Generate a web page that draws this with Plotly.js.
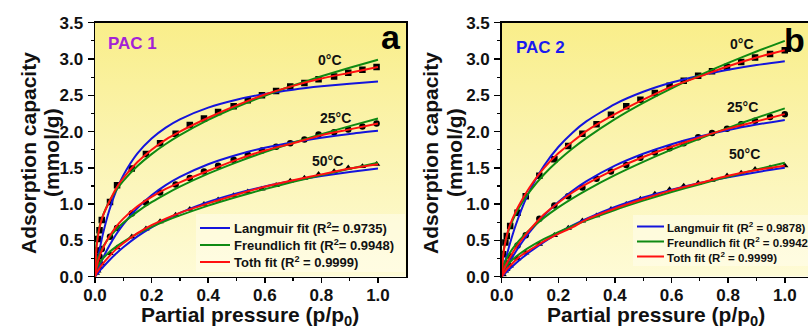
<!DOCTYPE html>
<html>
<head>
<meta charset="utf-8">
<script src="https://cdn.plot.ly/plotly-3.0.1.min.js"></script>
<style>html,body{margin:0;padding:0;background:#fff;}#chart{width:808px;height:330px;}</style>
</head>
<body>
<div id="chart"></div>
<script>
// ---------- DATA ----------
const temps = ['0°C', '25°C', '50°C'];

// measured points, PAC 1 (panel a)
const pA = [0.005, 0.01, 0.016, 0.024, 0.053, 0.078, 0.13, 0.18, 0.23, 0.285, 0.335, 0.385, 0.435, 0.49, 0.54, 0.59, 0.64, 0.69, 0.74, 0.79, 0.845, 0.895, 0.945, 0.995];
const qA0  = [0.36, 0.52, 0.64, 0.78, 1.03, 1.26, 1.49, 1.69, 1.84, 1.97, 2.09, 2.18, 2.27, 2.35, 2.43, 2.50, 2.56, 2.62, 2.67, 2.72, 2.76, 2.81, 2.85, 2.89];
const qA25 = [0.12, 0.20, 0.28, 0.38, 0.55, 0.67, 0.87, 1.02, 1.16, 1.27, 1.36, 1.45, 1.53, 1.61, 1.68, 1.74, 1.79, 1.84, 1.89, 1.96, 1.99, 2.03, 2.07, 2.11];
const qA50 = [0.05, 0.08, 0.13, 0.18, 0.32, 0.40, 0.55, 0.66, 0.76, 0.85, 0.93, 1.00, 1.06, 1.12, 1.17, 1.21, 1.26, 1.32, 1.36, 1.41, 1.45, 1.50, 1.52, 1.55];

// measured points, PAC 2 (panel b)
const pB = [0.005, 0.013, 0.018, 0.03, 0.056, 0.085, 0.133, 0.186, 0.235, 0.285, 0.335, 0.386, 0.44, 0.49, 0.541, 0.593, 0.643, 0.694, 0.743, 0.796, 0.846, 0.895, 0.948, 1.0];
const qB0  = [0.31, 0.47, 0.56, 0.70, 0.88, 1.11, 1.39, 1.62, 1.80, 1.97, 2.10, 2.23, 2.35, 2.44, 2.53, 2.63, 2.70, 2.77, 2.83, 2.89, 2.96, 3.02, 3.07, 3.12];
const qB25 = [0.07, 0.15, 0.19, 0.28, 0.43, 0.57, 0.80, 0.98, 1.11, 1.23, 1.35, 1.45, 1.54, 1.64, 1.71, 1.77, 1.84, 1.92, 1.98, 2.04, 2.10, 2.15, 2.20, 2.24];
const qB50 = [0.03, 0.08, 0.10, 0.15, 0.25, 0.33, 0.45, 0.57, 0.67, 0.77, 0.84, 0.93, 1.00, 1.07, 1.14, 1.20, 1.25, 1.29, 1.33, 1.39, 1.43, 1.48, 1.50, 1.53];

// fitted curves, common pressure grid
const fitP = [0, 0.005, 0.01, 0.02, 0.03, 0.05, 0.075, 0.1, 0.15, 0.2, 0.25, 0.3, 0.4, 0.5, 0.6, 0.7, 0.8, 0.9, 1.0];

// PAC 1
const aLang0  = [0, 0.125, 0.240, 0.445, 0.621, 0.909, 1.185, 1.396, 1.699, 1.905, 2.055, 2.169, 2.330, 2.439, 2.518, 2.577, 2.623, 2.660, 2.691];
const aFreu0  = [0, 0.456, 0.583, 0.746, 0.861, 1.032, 1.192, 1.320, 1.525, 1.689, 1.828, 1.950, 2.160, 2.338, 2.494, 2.634, 2.762, 2.880, 2.990];
const aToth0  = [0, 0.38, 0.55, 0.74, 0.86, 1.03, 1.22, 1.36, 1.58, 1.75, 1.89, 2.00, 2.19, 2.36, 2.51, 2.63, 2.73, 2.81, 2.89];
const aLang25 = [0, 0.050, 0.098, 0.188, 0.272, 0.422, 0.584, 0.722, 0.947, 1.122, 1.261, 1.375, 1.550, 1.678, 1.776, 1.853, 1.915, 1.967, 2.010];
const aFreu25 = [0, 0.183, 0.253, 0.349, 0.422, 0.537, 0.649, 0.742, 0.897, 1.027, 1.139, 1.241, 1.420, 1.576, 1.717, 1.845, 1.964, 2.075, 2.180];
const aToth25 = [0, 0.12, 0.20, 0.32, 0.41, 0.55, 0.69, 0.80, 0.97, 1.10, 1.21, 1.30, 1.46, 1.61, 1.74, 1.84, 1.95, 2.03, 2.11];
const aLang50 = [0, 0.025, 0.049, 0.096, 0.140, 0.224, 0.319, 0.405, 0.555, 0.680, 0.787, 0.879, 1.030, 1.148, 1.243, 1.321, 1.387, 1.442, 1.490];
const aFreu50 = [0, 0.103, 0.147, 0.210, 0.259, 0.337, 0.415, 0.481, 0.592, 0.687, 0.770, 0.845, 0.980, 1.099, 1.207, 1.307, 1.400, 1.487, 1.570];
const aToth50 = [0, 0.05, 0.08, 0.14, 0.19, 0.28, 0.38, 0.46, 0.60, 0.71, 0.80, 0.88, 1.01, 1.13, 1.24, 1.33, 1.41, 1.49, 1.55];

// PAC 2
const bLang0  = [0, 0.088, 0.171, 0.326, 0.468, 0.716, 0.976, 1.193, 1.532, 1.787, 1.985, 2.143, 2.379, 2.548, 2.675, 2.773, 2.852, 2.917, 2.970];
const bFreu0  = [0, 0.316, 0.428, 0.581, 0.695, 0.870, 1.040, 1.180, 1.411, 1.601, 1.766, 1.913, 2.172, 2.396, 2.596, 2.778, 2.946, 3.103, 3.250];
const bToth0  = [0, 0.28, 0.42, 0.60, 0.72, 0.90, 1.08, 1.24, 1.50, 1.70, 1.86, 2.01, 2.24, 2.44, 2.62, 2.76, 2.90, 3.02, 3.12];
const bLang25 = [0, 0.039, 0.077, 0.149, 0.219, 0.347, 0.492, 0.622, 0.845, 1.029, 1.184, 1.316, 1.530, 1.694, 1.826, 1.932, 2.021, 2.096, 2.160];
const bFreu25 = [0, 0.125, 0.183, 0.268, 0.335, 0.444, 0.555, 0.651, 0.814, 0.955, 1.080, 1.194, 1.399, 1.582, 1.750, 1.905, 2.051, 2.189, 2.320];
const bToth25 = [0, 0.07, 0.12, 0.20, 0.27, 0.40, 0.53, 0.65, 0.86, 1.02, 1.16, 1.28, 1.48, 1.65, 1.79, 1.92, 2.04, 2.14, 2.24];
const bLang50 = [0, 0.020, 0.039, 0.077, 0.114, 0.185, 0.267, 0.343, 0.480, 0.600, 0.706, 0.800, 0.960, 1.091, 1.200, 1.292, 1.371, 1.440, 1.500];
const bFreu50 = [0, 0.072, 0.107, 0.160, 0.203, 0.274, 0.347, 0.410, 0.520, 0.614, 0.700, 0.778, 0.920, 1.048, 1.166, 1.275, 1.378, 1.476, 1.570];
const bToth50 = [0, 0.03, 0.06, 0.11, 0.15, 0.23, 0.31, 0.37, 0.49, 0.59, 0.68, 0.79, 0.94, 1.07, 1.19, 1.29, 1.39, 1.47, 1.53];

const legendA = ['Langmuir fit (R<sup>2</sup>= 0.9735)', 'Freundlich fit (R<sup>2</sup>= 0.9948)', 'Toth fit (R<sup>2</sup> = 0.9999)'];
const legendB = ['Langmuir fit (R<sup>2</sup> = 0.9878)', 'Freundlich fit (R<sup>2</sup> = 0.9942)', 'Toth fit (R<sup>2</sup> = 0.9999)'];
const panelNames = ['PAC 1', 'PAC 2'];
const panelLetters = ['a', 'b'];

// ---------- STYLE ----------
const FONT = 'Liberation Sans, Arial, sans-serif';
const cL = '#1414dc', cF = '#0f8a12', cT = '#ff1010';
const fitCols = [cL, cF, cT];
const symbols = ['square', 'circle', 'triangle-up'];

const traces = [];
function addPanel(px, qs, fits, xa, ya, names) {
  qs.forEach((q, i) => {
    traces.push({x: px, y: q, xaxis: xa, yaxis: ya, mode: 'markers', type: 'scatter',
      marker: {symbol: symbols[i], size: 6.5, color: '#000'}, showlegend: false, hoverinfo: 'skip'});
  });
  [0, 1, 2].forEach(k => {
    fits[k].forEach((f) => {
      traces.push({x: fitP, y: f, xaxis: xa, yaxis: ya, mode: 'lines', type: 'scatter',
        line: {color: fitCols[k], width: 2, shape: 'spline', smoothing: 0.6},
        name: names[k], showlegend: false});
    });
  });
}
addPanel(pA, [qA0, qA25, qA50],
  [[aLang0, aLang25, aLang50], [aFreu0, aFreu25, aFreu50], [aToth0, aToth25, aToth50]], 'x', 'y', legendA);
addPanel(pB, [qB0, qB25, qB50],
  [[bLang0, bLang25, bLang50], [bFreu0, bFreu25, bFreu50], [bToth0, bToth25, bToth50]], 'x2', 'y2', legendB);

const W = 808, H = 330;
const axA = [95 / W, 406 / W], axB = [501.7 / W, 1];
const yDom = [1 - 276.7 / H, 1 - 22.7 / H];
const px = v => v / W, py = v => 1 - v / H;

const grad = 'data:image/svg+xml;utf8,' + encodeURIComponent(
  '<svg xmlns="http://www.w3.org/2000/svg" width="100" height="100" preserveAspectRatio="none">' +
  '<defs><linearGradient id="g" x1="0" y1="0" x2="0" y2="1">' +
  '<stop offset="0" stop-color="#f9ee8a"/><stop offset="0.5" stop-color="#fbf4b2"/><stop offset="1" stop-color="#fefbd6"/>' +
  '</linearGradient></defs><rect width="100" height="100" fill="url(#g)"/></svg>');

function xaxisCfg(dom, range, anchor) {
  return {domain: dom, range: range, anchor: anchor, dtick: 0.2, tick0: 0, tickformat: '.1f', ticks: 'outside', ticklen: 5,
    tickwidth: 1.5, tickcolor: '#000', showline: true, linecolor: '#000', linewidth: 1.5, mirror: true,
    showgrid: false, zeroline: false, automargin: false, tickfont: {family: FONT, size: 17, color: '#111', weight: 'bold'},
    minor: {dtick: 0.1, ticks: 'outside', ticklen: 3, tickwidth: 1.2, tickcolor: '#000'}, ticklabelstandoff: -3};
}
function yaxisCfg(anchor, mirror) {
  return {domain: yDom, range: [0, 3.5], dtick: 0.5, tick0: 0, tickformat: '.1f', ticks: 'outside', ticklen: 6,
    tickwidth: 1.5, tickcolor: '#000', showline: true, linecolor: '#000', linewidth: 1.5, mirror: mirror,
    anchor: anchor, showgrid: false, zeroline: false, automargin: false,
    tickfont: {family: FONT, size: 17, color: '#111', weight: 'bold'},
    minor: {dtick: 0.25, ticks: 'outside', ticklen: 3, tickwidth: 1.2, tickcolor: '#000'}, ticklabelstandoff: 1};
}

const ann = [];
function txt(x, y, text, size, color, xref, yref, extra) {
  ann.push(Object.assign({x: x, y: y, xref: xref || 'paper', yref: yref || 'paper', text: text, showarrow: false,
    font: {family: FONT, size: size, color: color, weight: 'bold'}, xanchor: 'center', yanchor: 'middle'}, extra || {}));
}
// axis titles
txt(px(28), py(153), 'Adsorption capacity', 21, '#111', 'paper', 'paper', {textangle: -90});
txt(px(51), py(153), '(mmol/g)', 21, '#111', 'paper', 'paper', {textangle: -90});
txt(px(430), py(153), 'Adsorption capacity', 21, '#111', 'paper', 'paper', {textangle: -90});
txt(px(454), py(153), '(mmol/g)', 21, '#111', 'paper', 'paper', {textangle: -90});
txt(px(250), py(316), 'Partial pressure (p/p<sub>0</sub>)', 21, '#111');
txt(px(656), py(316), 'Partial pressure (p/p<sub>0</sub>)', 21, '#111');
// panel names and letters
txt(px(132), py(44), panelNames[0], 17, '#a322d6');
txt(px(540), py(47), panelNames[1], 17, '#1a1af0');
txt(px(391), py(37), panelLetters[0], 34, '#000');
txt(px(794), py(40), panelLetters[1], 34, '#000');
// temperature labels
const tposA = [[0.83, 2.98], [0.85, 2.18], [0.82, 1.59]];
const tposB = [[0.848, 3.21], [0.85, 2.34], [0.856, 1.69]];
temps.forEach((t, i) => {
  txt(tposA[i][0], tposA[i][1], t, 14, '#111', 'x', 'y');
  txt(tposB[i][0], tposB[i][1], t, 14, '#111', 'x2', 'y2');
});

// hand-built legends (lines + text) so the cut-off text at the right edge matches
const shapes = [];
shapes.push({type: 'rect', xref: 'paper', yref: 'paper', x0: px(196), x1: px(405), y0: py(272), y1: py(214),
  fillcolor: 'rgba(255,254,236,0.55)', line: {width: 0}, layer: 'below'});
shapes.push({type: 'rect', xref: 'paper', yref: 'paper', x0: px(633), x1: 1, y0: py(266), y1: py(215),
  fillcolor: 'rgba(255,254,236,0.55)', line: {width: 0}, layer: 'below'});
const legRowsA = [228, 245, 262], legRowsB = [226.5, 241.5, 256.5];
[0, 1, 2].forEach(k => {
  shapes.push({type: 'line', xref: 'paper', yref: 'paper', x0: px(200), x1: px(230), y0: py(legRowsA[k]), y1: py(legRowsA[k]),
    line: {color: fitCols[k], width: 2}});
  txt(px(232), py(legRowsA[k]), legendA[k], 13, '#111', 'paper', 'paper', {xanchor: 'left'});
  shapes.push({type: 'line', xref: 'paper', yref: 'paper', x0: px(637), x1: px(664), y0: py(legRowsB[k]), y1: py(legRowsB[k]),
    line: {color: fitCols[k], width: 2}});
  txt(px(665), py(legRowsB[k]), legendB[k], 11.5, '#111', 'paper', 'paper', {xanchor: 'left'});
});

const layout = {
  width: W, height: H, margin: {l: 0, r: 0, t: 0, b: 0, autoexpand: false},
  paper_bgcolor: '#fff', plot_bgcolor: 'rgba(0,0,0,0)',
  xaxis: xaxisCfg(axA, [0, 1.099], 'y'),
  yaxis: yaxisCfg('x', true),
  xaxis2: xaxisCfg(axB, [0, 1.082], 'y2'),
  yaxis2: yaxisCfg('x2', false),
  images: [
    {source: grad, xref: 'paper', yref: 'paper', x: axA[0], y: yDom[1], sizex: axA[1] - axA[0], sizey: yDom[1] - yDom[0], sizing: 'stretch', layer: 'below', xanchor: 'left', yanchor: 'top'},
    {source: grad, xref: 'paper', yref: 'paper', x: axB[0], y: yDom[1], sizex: axB[1] - axB[0], sizey: yDom[1] - yDom[0], sizing: 'stretch', layer: 'below', xanchor: 'left', yanchor: 'top'}
  ],
  shapes: shapes,
  annotations: ann,
  showlegend: false
};

Plotly.newPlot('chart', traces, layout, {displayModeBar: false, staticPlot: true});
</script>
</body>
</html>
